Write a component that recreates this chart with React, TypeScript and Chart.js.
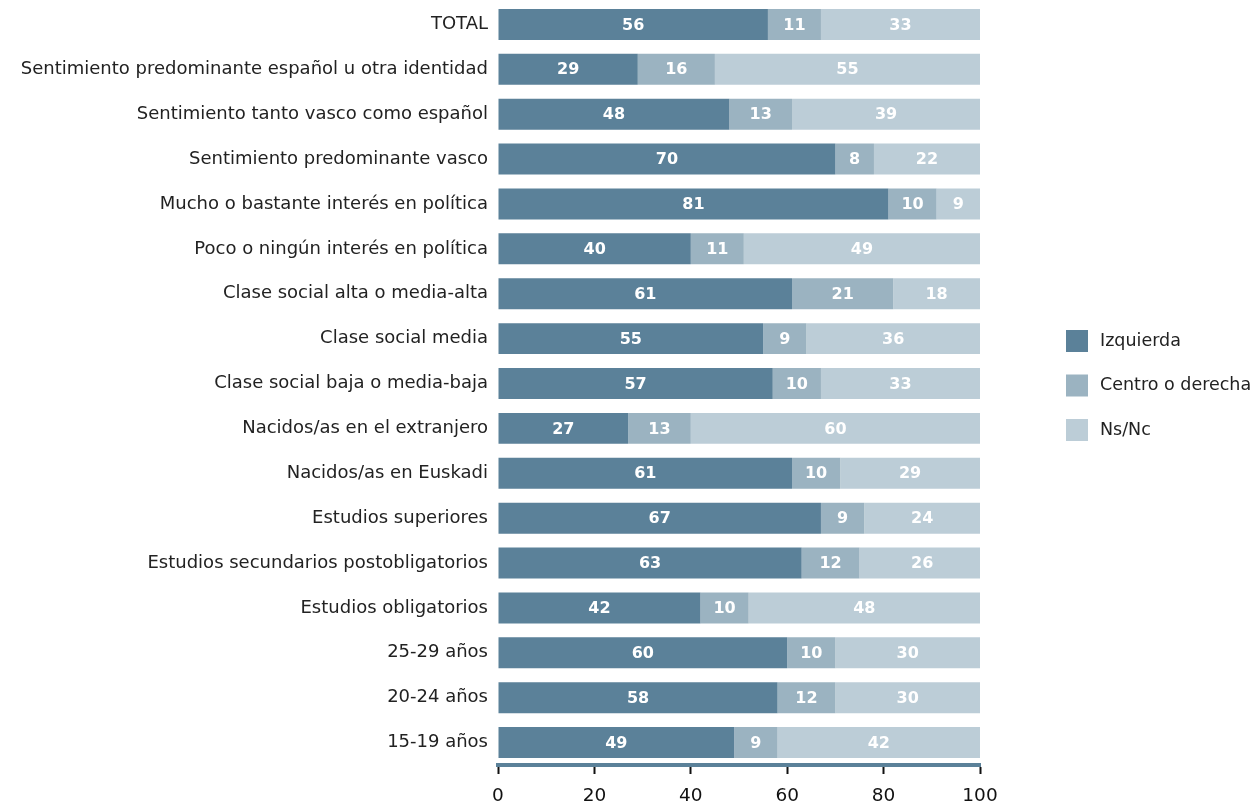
import React, { useEffect, useRef } from "react";
import { Chart, registerables } from "chart.js";

Chart.register(...registerables);

const categories = [
  "TOTAL",
  "Sentimiento predominante español u otra identidad",
  "Sentimiento tanto vasco como español",
  "Sentimiento predominante vasco",
  "Mucho o bastante interés en política",
  "Poco o ningún interés en política",
  "Clase social alta o media-alta",
  "Clase social media",
  "Clase social baja o media-baja",
  "Nacidos/as en el extranjero",
  "Nacidos/as en Euskadi",
  "Estudios superiores",
  "Estudios secundarios postobligatorios",
  "Estudios obligatorios",
  "25-29 años",
  "20-24 años",
  "15-19 años",
];

const izquierda = [56, 29, 48, 70, 81, 40, 61, 55, 57, 27, 61, 67, 63, 42, 60, 58, 49];
const centroDerecha = [11, 16, 13, 8, 10, 11, 21, 9, 10, 13, 10, 9, 12, 10, 10, 12, 9];
const nsnc = [33, 55, 39, 22, 9, 49, 18, 36, 33, 60, 29, 24, 26, 48, 30, 30, 42];

const seriesNames = ["Izquierda", "Centro o derecha", "Ns/Nc"];
const seriesColors = ["#5b8199", "#9bb3c1", "#bccdd7"];
const xTicks = [0, 20, 40, 60, 80, 100];

const FONT = "'DejaVu Sans', sans-serif";

const valueLabels = {
  id: "valueLabels",
  afterDatasetsDraw(chart: any) {
    const ctx = chart.ctx;
    ctx.save();
    ctx.fillStyle = "#ffffff";
    ctx.font = `bold 16px ${FONT}`;
    ctx.textAlign = "center";
    ctx.textBaseline = "middle";
    chart.data.datasets.forEach((ds: any, di: number) => {
      const meta = chart.getDatasetMeta(di);
      meta.data.forEach((bar: any, i: number) => {
        const v = ds.data[i];
        const cx = (bar.x + bar.base) / 2;
        ctx.fillText(String(v), cx, bar.y + 1);
      });
    });
    ctx.restore();
  },
};

const customLegend = {
  id: "customLegend",
  afterDraw(chart: any) {
    const ctx = chart.ctx;
    ctx.save();
    ctx.font = `17.5px ${FONT}`;
    ctx.textBaseline = "middle";
    ctx.textAlign = "left";
    const x0 = 1066;
    const yStart = 341;
    const step = 44.5;
    chart.data.datasets.forEach((ds: any, i: number) => {
      const y = yStart + i * step;
      ctx.fillStyle = ds.backgroundColor;
      ctx.fillRect(x0, y - 11, 22, 22);
      ctx.fillStyle = "#222222";
      ctx.fillText(ds.label, x0 + 34, y);
    });
    ctx.restore();
  },
};

export default function App() {
  const ref = useRef<HTMLCanvasElement | null>(null);

  useEffect(() => {
    document.body.style.margin = "0";
    if (!ref.current) return;
    const data = [izquierda, centroDerecha, nsnc];
    const chart = new Chart(ref.current, {
      type: "bar",
      data: {
        labels: categories,
        datasets: data.map((d, i) => ({
          label: seriesNames[i],
          data: d,
          backgroundColor: seriesColors[i],
          borderWidth: 0,
          categoryPercentage: 1,
          barPercentage: 0.69,
        })),
      },
      options: {
        indexAxis: "y",
        responsive: false,
        animation: false,
        maintainAspectRatio: false,
        layout: { padding: { top: 2, right: 276, left: 0, bottom: 0 } },
        plugins: {
          legend: { display: false },
          tooltip: { enabled: false },
        },
        scales: {
          x: {
            stacked: true,
            min: 0,
            max: 100,
            afterBuildTicks: (axis: any) => {
              axis.ticks = xTicks.map((v) => ({ value: v }));
            },
            afterFit: (axis: any) => {
              axis.height = 40;
            },
            grid: {
              drawOnChartArea: false,
              drawTicks: true,
              tickLength: 9,
              tickColor: "#111111",
              tickWidth: 2,
            },
            border: { display: true, color: "#5b8199", width: 4 },
            ticks: {
              color: "#111111",
              font: { family: FONT, size: 18.5 },
              padding: 11,
              maxRotation: 0,
            },
          },
          y: {
            stacked: true,
            afterFit: (axis: any) => {
              axis.width = 498;
              axis.paddingTop = 0;
              axis.paddingBottom = 0;
            },
            grid: { display: false, drawTicks: false },
            border: { display: false },
            ticks: {
              color: "#222222",
              font: { family: FONT, size: 18 },
              padding: 10,
              autoSkip: false,
            },
          },
        },
      },
      plugins: [valueLabels, customLegend],
    } as any);
    return () => chart.destroy();
  }, []);

  return (
    <div style={{ position: "absolute", left: 0, top: 0, width: 1256, height: 805 }}>
      <canvas ref={ref} width={1256} height={805} style={{ display: "block" }} />
    </div>
  );
}
